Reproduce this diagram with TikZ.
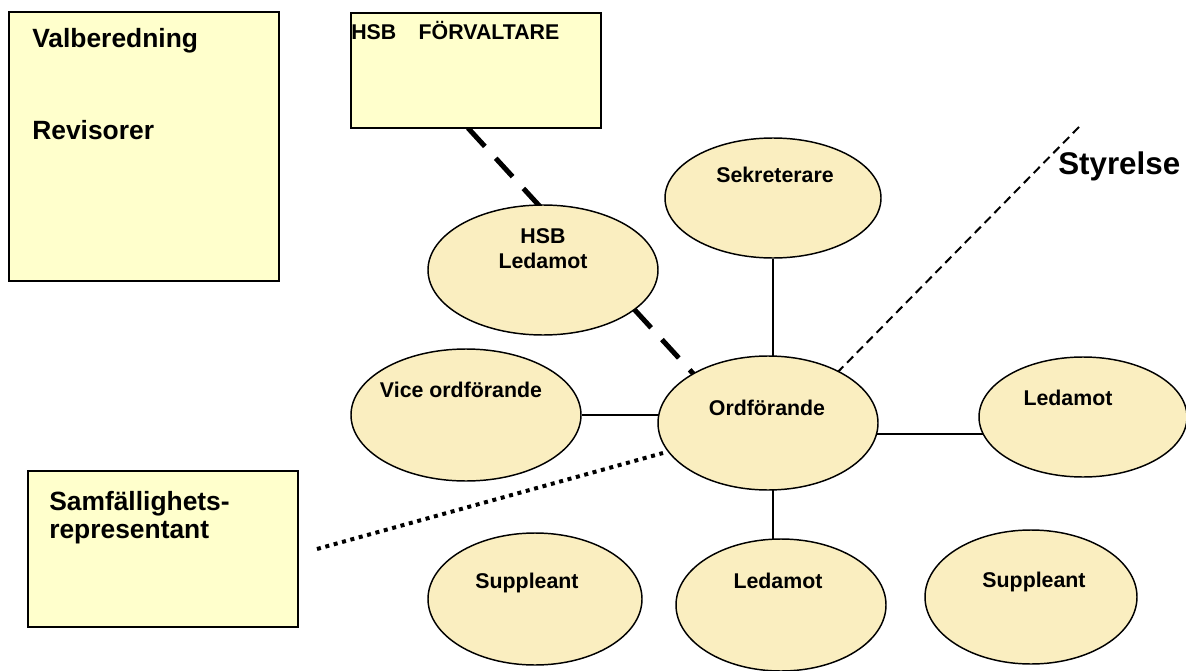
\documentclass[tikz,border=0pt]{standalone}
\usepackage{fontspec}
\setmainfont{Liberation Sans}
\usetikzlibrary{shapes.geometric,backgrounds,fit}
\definecolor{boxfill}{RGB}{255,255,204}
\definecolor{ovalfill}{RGB}{250,238,192}
\tikzset{
  rbox/.style={draw=black, line width=1.9pt, fill=boxfill, inner sep=0pt},
  oval/.style={ellipse, draw=black, line width=1.1pt, fill=ovalfill, inner sep=0pt},
  otext/.style={font=\fontsize{16}{19}\selectfont\bfseries, anchor=base, inner sep=0pt},
  btext/.style={font=\fontsize{19.8}{24}\selectfont\bfseries, anchor=base west, inner sep=0pt},
  ftext/.style={font=\fontsize{16}{19}\selectfont\bfseries, anchor=base west, inner sep=0pt},
  stext/.style={font=\fontsize{23.5}{28}\selectfont\bfseries, anchor=base west, inner sep=0pt},
  link/.style={line width=1.1pt},
  hsbdash/.style={line width=3.75pt, dash pattern=on 18.75pt off 12pt},
  styrdash/.style={line width=1.5pt, dash pattern=on 6.5pt off 4pt},
  samdots/.style={line width=3pt, dash pattern=on 3pt off 3.5pt},
}
\begin{document}
\begin{tikzpicture}[x=0.75pt,y=-0.75pt]
\useasboundingbox (0,0) rectangle (1186,671);

% boxes
\node[rbox, fit={(9,12) (279,281)}] (valb) {};
\node[rbox, fit={(351,13) (601,128)}] (hsbf) {};
\node[rbox, fit={(28,471) (298,627)}] (samf) {};

\node[btext] (tvalb) at (32,47) {Valberedning};
\node[btext] (trev) at (32,139) {Revisorer};
\node[ftext] (thsbf) at (351,40) {HSB\hspace{1.05em}FÖRVALTARE};
\node[btext] (tsamf1) at (49,510) {Samfällighets-};
\node[btext] (tsamf2) at (49,538) {representant};
\node[stext] (tstyr) at (1058,174) {Styrelse};

% ellipses
\node[oval, minimum width=162pt, minimum height=90pt] (sekr) at (773,198) {};
\node[oval, minimum width=172.5pt, minimum height=97.5pt] (hsbl) at (543,270) {};
\node[oval, minimum width=172.5pt, minimum height=99pt] (vice) at (466,415) {};
\node[oval, minimum width=165pt, minimum height=100.5pt] (ord) at (768,423) {};
\node[oval, minimum width=156pt, minimum height=90pt] (ledR) at (1083,417) {};
\node[oval, minimum width=160.5pt, minimum height=99pt] (suppL) at (535,599) {};
\node[oval, minimum width=157.5pt, minimum height=99pt] (ledB) at (781,605) {};
\node[oval, minimum width=159pt, minimum height=100.5pt] (suppR) at (1031,597) {};

\node[otext] (tsekr) at (775,182) {Sekreterare};
\node[otext] (thsb1) at (543,243) {HSB};
\node[otext] (thsb2) at (543,268) {Ledamot};
\node[otext] (tvice) at (461,397) {Vice ordförande};
\node[otext] (tord) at (767,415) {Ordförande};
\node[otext] (tledR) at (1068,405) {Ledamot};
\node[otext] (tsuppL) at (527,588) {Suppleant};
\node[otext] (tledB) at (778,588) {Ledamot};
\node[otext] (tsuppR) at (1034,587) {Suppleant};

\coordinate (hd1) at (468,128);
\coordinate (hd2) at (699,380);
\coordinate (sd1) at (1079,127);
\coordinate (sd2) at (830,380);
\coordinate (dd1) at (317,549);
\coordinate (dd2) at (663,453);

\begin{scope}[on background layer]
  \draw[link] (sekr.south) -- (sekr.south |- ord.center);
  \draw[link] (vice.east) -- (vice.east -| ord.center);
  \draw[link] ([yshift=-8.25pt]ord.center) -- ([yshift=-8.25pt]ord.center -| ledR.center);
  \draw[link] ([xshift=-6pt]ledB.center) -- ([xshift=-6pt]ledB.center |- ord.center);
  \draw[hsbdash] (hd1) -- (hd2);
  \draw[styrdash] (sd1) -- (sd2);
  \draw[samdots] (dd1) -- (dd2);
\end{scope}
\end{tikzpicture}
\end{document}
